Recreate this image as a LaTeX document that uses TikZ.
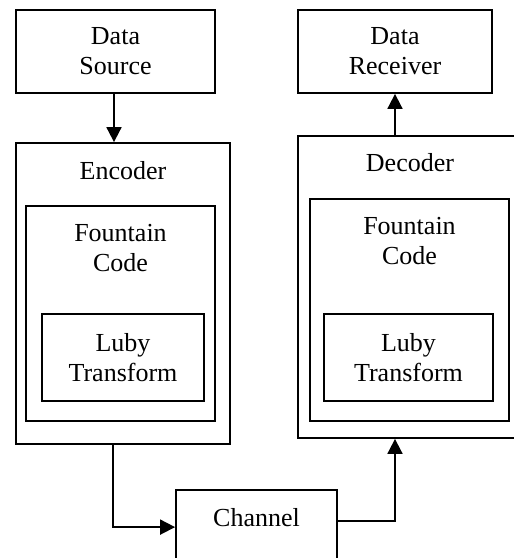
\documentclass[tikz,border=0pt]{standalone}
\usepackage{fontspec}
\setmainfont{Liberation Serif}
\usetikzlibrary{arrows.meta}
\usetikzlibrary{calc}
\usetikzlibrary{positioning}

\begin{document}
\begin{tikzpicture}[x=1pt,y=-1pt,>={Triangle[width=15pt,length=15pt]},line width=1.8pt]
  \tikzstyle{every node}=[font=\fontsize{26}{30}\selectfont, align=center, text=black]
  \tikzstyle{box}=[draw=black, line width=1.8pt, inner sep=0pt]
  \tikzstyle{link}=[draw=black, line width=1.8pt, ->]
  \useasboundingbox (0,0) rectangle (514,558);
  \clip (0,0) rectangle (514,558);
  % top row
  \node[box, minimum width=199pt, minimum height=83pt] (src) at (115.5,51.5) {Data\\Source};
  \node[box, minimum width=194pt, minimum height=83pt] (rcv) at (395,51.5) {Data\\Receiver};
  % encoder side
  \node[box, minimum width=214pt, minimum height=301pt] (enc) at (123,293.5) {};
  \node[box, minimum width=189pt, minimum height=215pt] (fcL) at (120.5,313.5) {};
  \node[box, minimum width=162pt, minimum height=87pt] (ltL) at (123,357.5) {Luby\\Transform};
  \node (encLbl) at ([yshift=-29pt]enc.north) {Encoder};
  \node (fcLLbl) at ([yshift=-43pt]fcL.north) {Fountain\\Code};
  % decoder side
  \node[box, minimum width=224pt, minimum height=302pt] (dec) at (410,287) {};
  \node[box, minimum width=199pt, minimum height=222pt] (fcR) at (409.5,310) {};
  \node[box, minimum width=169pt, minimum height=87pt] (ltR) at (408.5,357.5) {Luby\\Transform};
  \node (decLbl) at ([yshift=-28pt]dec.north) {Decoder};
  \node (fcRLbl) at ([yshift=-43pt]fcR.north) {Fountain\\Code};
  % channel
  \node[box, minimum width=161pt, minimum height=110pt] (ch) at (256.5,545) {};
  \node (chLbl) at ([yshift=-28pt]ch.north) {Channel};

  \draw[link] ([xshift=-1.5pt]src.south) -- ([xshift=-1.5pt]src.south |- enc.north);
  \draw[link] (rcv.south |- dec.north) -- (rcv.south);
  \draw[link] ([xshift=-10pt]enc.south) |- ([yshift=-38pt]ch.north west);
  \draw[link] ([yshift=-32pt]ch.north east) -| (rcv.south |- dec.south);
\end{tikzpicture}
\end{document}
